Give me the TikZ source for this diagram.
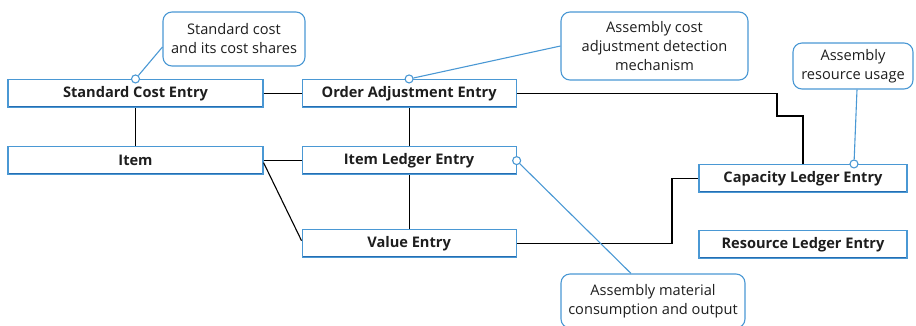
\documentclass[tikz,border=0pt]{standalone}
\usepackage{fontspec}
\setmainfont{Open Sans}
\usetikzlibrary{positioning}
\definecolor{erblue}{RGB}{74,152,212}
\definecolor{erdeep}{RGB}{38,110,178}
\definecolor{ertext}{RGB}{30,30,30}

\begin{document}
\begin{tikzpicture}[x=1pt,y=-1pt,text=ertext,font=\fontsize{14.6}{19}\selectfont,node distance=38pt,
  every node/.style={align=center},
  entity/.style={draw=erblue,line width=1.1pt,fill=white,minimum height=28pt,inner sep=2pt,font=\fontsize{14.6}{17}\selectfont\bfseries,
    path picture={\draw[erdeep,line width=4pt] (path picture bounding box.south west)--(path picture bounding box.south east);}},
  note/.style={draw=erblue,line width=1.1pt,fill=white,rounded corners=9pt,inner sep=2pt},
  link/.style={line width=1.1pt},
  tag/.style={draw=erblue,line width=1.1pt},
  pindot/.style={circle,draw=erblue,line width=1.1pt,fill=white,inner sep=0pt,minimum size=8pt}]
  \useasboundingbox (0,0) rectangle (916,325);
  % entities
  \node[entity,minimum width=255pt] (sce) at (135.5,93.5) {Standard Cost Entry};
  \node[entity,minimum width=255pt,below=38pt of sce] (item) {Item};
  \node[entity,minimum width=214pt,right=38pt of sce] (oae) {Order Adjustment Entry};
  \node[entity,minimum width=214pt,below=38pt of oae] (ile) {Item Ledger Entry};
  \node[entity,minimum width=214pt,below=54pt of ile] (ve) {Value Entry};
  \node[entity,minimum width=208pt] (cle) at (803,178.5) {Capacity Ledger Entry};
  \node[entity,minimum width=208pt,below=37pt of cle] (rle) {Resource Ledger Entry};
  % notes
  \node[note,minimum width=142pt,minimum height=54pt] (costnote) at (234,39) {Standard cost\\and its cost shares};
  \node[note,minimum width=187pt,minimum height=68pt] (adjnote) at (654.5,46) {Assembly cost\\adjustment detection\\mechanism};
  \node[note,minimum width=120pt,minimum height=46pt] (resnote) at (853,66) {Assembly\\resource usage};
  \node[note,minimum width=184pt,minimum height=54pt] (matnote) at (653,301) {Assembly material\\consumption and output};
  % relations
  \draw[link] (sce) -- (oae);
  \draw[link] (sce) -- (item);
  \draw[link] (item) -- (ile);
  \draw[link] ([yshift=-2pt]item.east) -- ([yshift=3pt]ve.west);
  \draw[link] (oae) -- (ile);
  \draw[link] (ile) -- (ve);
  \draw[link] (oae.east) -| (777,116) -| (cle.north);
  \draw[link] (ve.east) -| (672,178.5) -- (cle.west);
  % callouts
  \node[pindot] (costdot) at (sce.north) {};
  \node[pindot] (adjdot) at (oae.north) {};
  \node[pindot] (matdot) at (ile.east) {};
  \node[pindot] (resdot) at ([xshift=51pt]cle.north) {};
  \draw[tag] (costdot) -- ([yshift=-8pt]costnote.west);
  \draw[tag] (adjdot) -- (adjnote.west);
  \draw[tag] (matdot) -- ([xshift=-22pt]matnote.north);
  \draw[tag] (resdot) -- ([xshift=4pt]resnote.south);
\end{tikzpicture}
\end{document}
